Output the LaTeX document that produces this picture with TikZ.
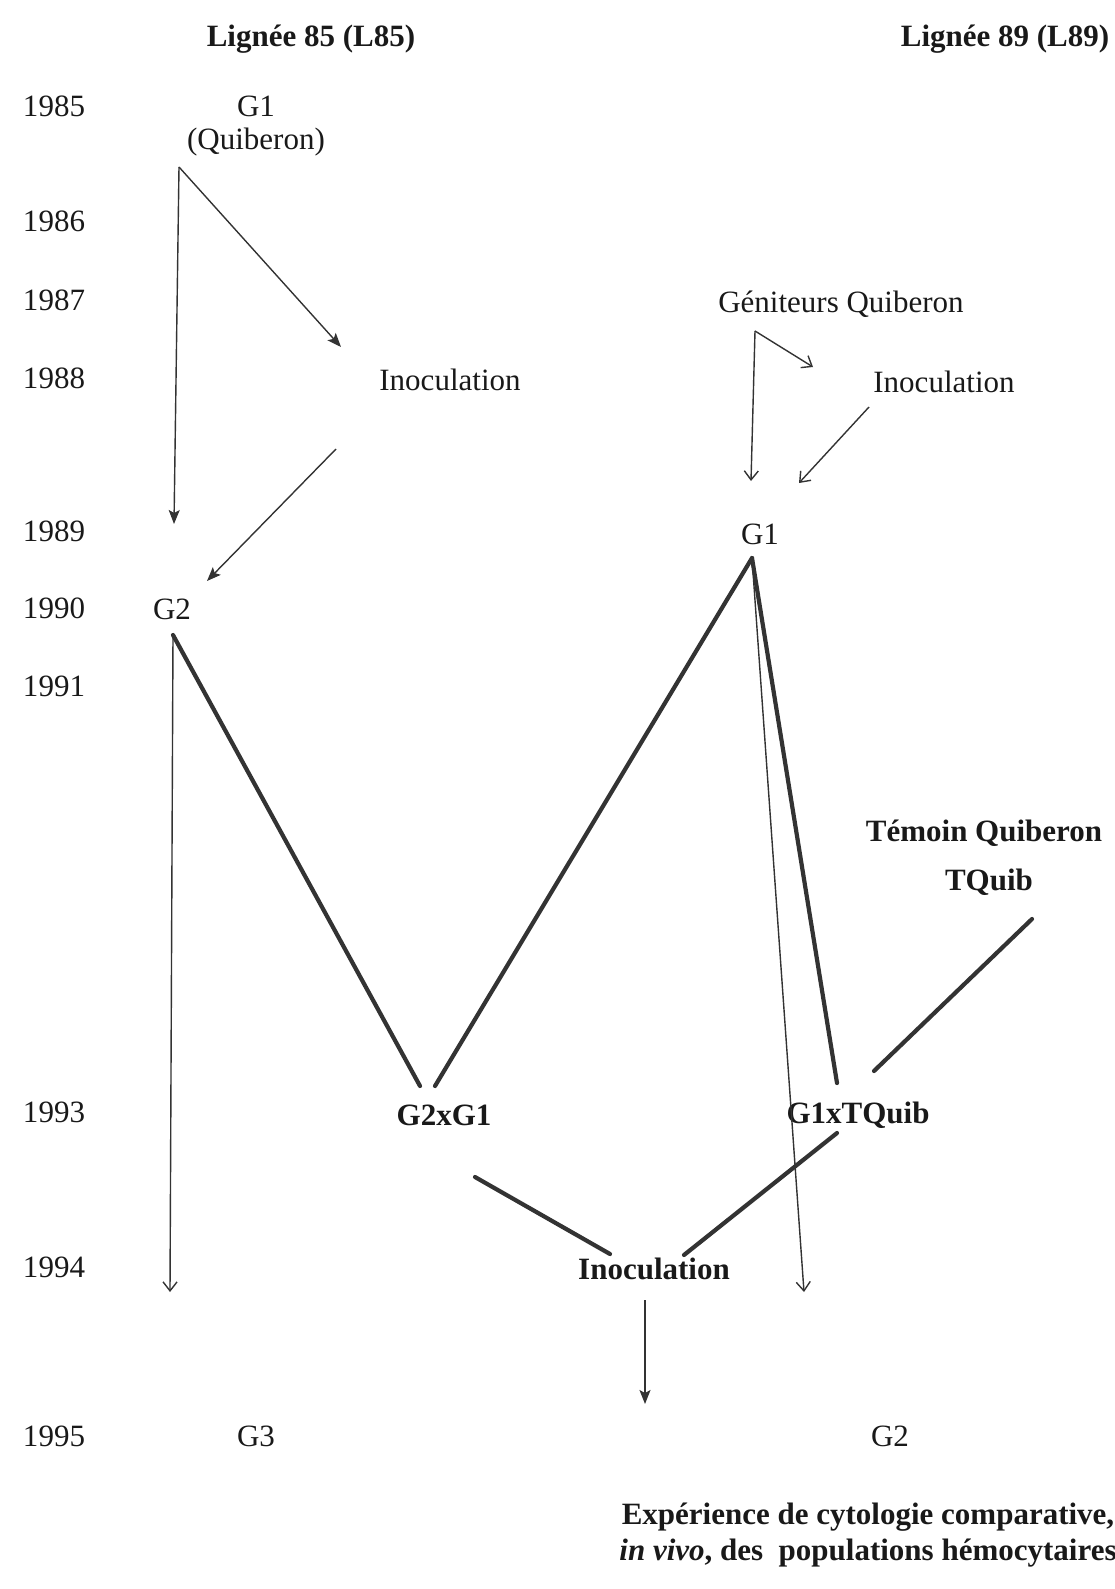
\documentclass[tikz,border=0pt]{standalone}
\usepackage{fontspec}
\setmainfont{Liberation Serif}
\usetikzlibrary{arrows.meta}
\begin{document}
\begin{tikzpicture}[x=1pt,y=-1pt,
  txt/.style={inner sep=0pt, font=\fontsize{31}{36}\selectfont, text=black!90},
  btxt/.style={txt, font=\fontsize{31}{36}\selectfont\bfseries},
  thin/.style={line width=1.4pt, draw=black!80},
  thick/.style={line width=4.2pt, draw=black!80, line cap=round},
  openarr/.style={thin, -{Straight Barb[length=9pt,width=14pt,line width=1.4pt]}},
  fillarr/.style={thin, -{Stealth[length=14pt,width=11pt,inset=3pt]}}]
\useasboundingbox (0,0) rectangle (1115,1589);
% headers
\node[btxt] (hL85) at (311,39) {Lignée 85 (L85)};
\node[btxt] (hL89) at (1005,39) {Lignée 89 (L89)};
% years
\node[txt] (y85) at (54,106) {1985};
\node[txt] (y86) at (54,221) {1986};
\node[txt] (y87) at (54,300) {1987};
\node[txt] (y88) at (54,378) {1988};
\node[txt] (y89) at (54,531) {1989};
\node[txt] (y90) at (54,608) {1990};
\node[txt] (y91) at (54,686) {1991};
\node[txt] (y93) at (54,1112) {1993};
\node[txt] (y94) at (54,1267) {1994};
\node[txt] (y95) at (54,1436) {1995};
% left lineage
\node[txt] (g1L) at (256,106) {G1};
\node[txt] (quib) at (256,142) {(Quiberon)};
\coordinate (cL) at (179,167);
\coordinate (cLdown) at (174,524);
\coordinate (cLdiag) at (341,347);
\node[txt] (inocL) at (450,380) {Inoculation};
\coordinate (iLs) at (336,449);
\coordinate (iLe) at (207,581);
\node[txt] (g2L) at (172,609) {G2};
\coordinate (g2Ls) at (173,635);
\coordinate (g2Ldown) at (170,1292);
\node[btxt] (g2xg1) at (444,1115) {G2xG1};
\coordinate (g2xg1L) at (420,1086);
\coordinate (g2xg1R) at (435,1086);
\coordinate (g2xg1B) at (475,1177);
\node[txt] (g3) at (256,1436) {G3};
% right lineage
\node[txt] (genit) at (841,304) {Géniteurs Quiberon};
\coordinate (cR) at (755,331);
\coordinate (cRdown) at (751,481);
\coordinate (cRdiag) at (813,367);
\node[txt] (inocR) at (944,382) {Inoculation};
\coordinate (iRs) at (869,407);
\coordinate (iRe) at (799,483);
\node[txt] (g1R) at (760,534) {G1};
\coordinate (g1Rs) at (752,558);
\coordinate (g1Rdown) at (804,1292);
\node[btxt] (temoin) at (984,833) {Témoin Quiberon};
\node[btxt] (tquib) at (989,882) {TQuib};
\coordinate (tqs) at (1032,919);
\coordinate (tqe) at (874,1071);
\node[btxt] (g1xtq) at (858,1115) {G1xTQuib};
\coordinate (g1xtqT) at (837,1083);
\coordinate (g1xtqB) at (837,1133);
\node[btxt] (inocB) at (654,1269) {Inoculation};
\coordinate (iBl) at (610,1254);
\coordinate (iBr) at (684,1255);
\coordinate (iBs) at (645,1300);
\coordinate (iBe) at (645,1404);
\node[txt] (g2R) at (890,1436) {G2};
\node[btxt, align=center] (exp) at (868,1535) {Expérience de cytologie comparative,\\\textit{in vivo}, des\ \ populations hémocytaires};
% connectors
\draw[fillarr] (cL) -- (cLdown);
\draw[fillarr] (cL) -- (cLdiag);
\draw[fillarr] (iLs) -- (iLe);
\draw[openarr] (g2Ls) -- (g2Ldown);
\draw[thick] (g2Ls) -- (g2xg1L);
\draw[thick] (g2xg1R) -- (g1Rs);
\draw[openarr] (cR) -- (cRdown);
\draw[openarr] (cR) -- (cRdiag);
\draw[openarr] (iRs) -- (iRe);
\draw[thick] (g1Rs) -- (g1xtqT);
\draw[openarr] (g1Rs) -- (g1Rdown);
\draw[thick] (tqs) -- (tqe);
\draw[thick] (g1xtqB) -- (iBr);
\draw[thick] (g2xg1B) -- (iBl);
\draw[fillarr] (iBs) -- (iBe);
\end{tikzpicture}
\end{document}
